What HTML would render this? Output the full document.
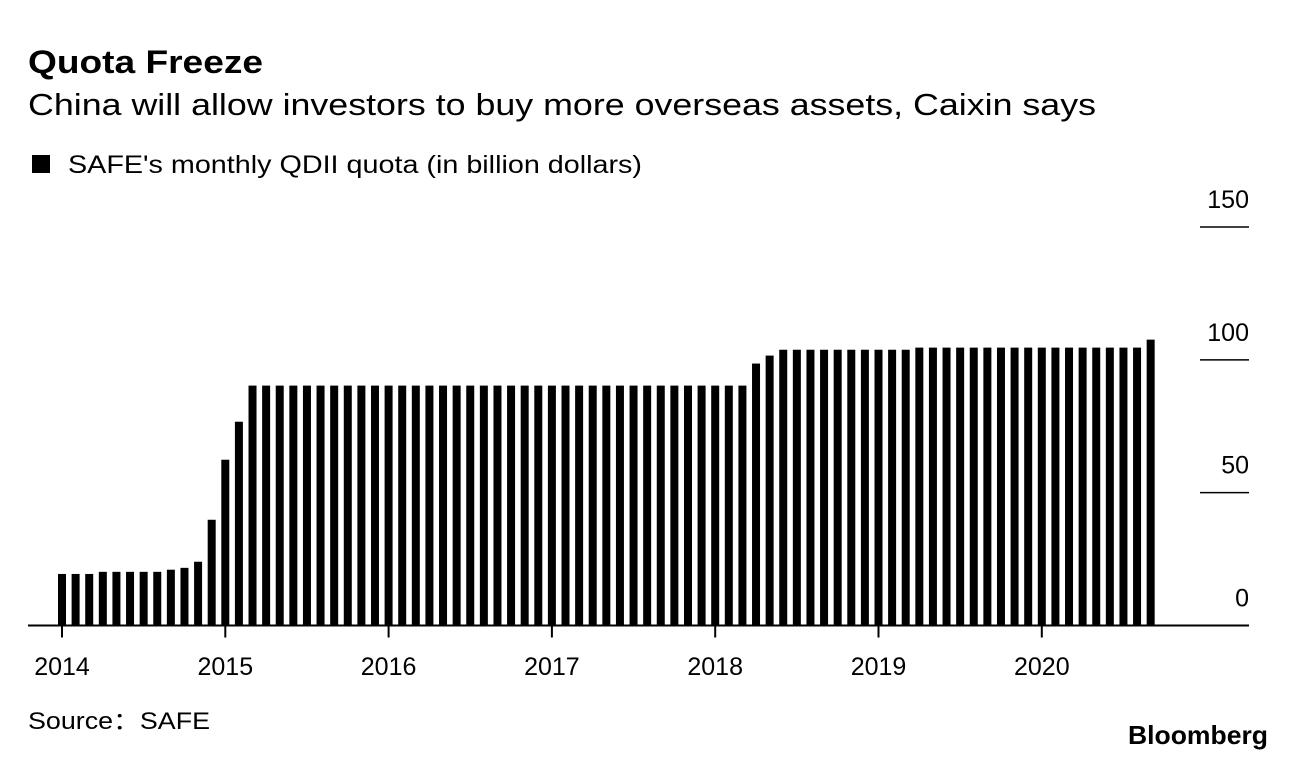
<!DOCTYPE html>
<html><head><meta charset="utf-8"><style>
body{margin:0;background:#fff;font-family:"Liberation Sans",sans-serif;}
svg text{font-family:"Liberation Sans",sans-serif;}
</style></head><body>
<svg id="chart" width="1296" height="760" xmlns="http://www.w3.org/2000/svg">
<text x="28" y="73" font-size="32" font-weight="bold" fill="#000" textLength="235" lengthAdjust="spacingAndGlyphs">Quota Freeze</text>
<text x="28" y="115" font-size="31" fill="#000" textLength="1068" lengthAdjust="spacingAndGlyphs">China will allow investors to buy more overseas assets, Caixin says</text>
<rect x="32" y="155" width="18" height="18" fill="#000"/>
<text x="68" y="173" font-size="25" fill="#000" textLength="574" lengthAdjust="spacingAndGlyphs">SAFE's monthly QDII quota (in billion dollars)</text>
<g id="grid"></g><g id="bars"></g><g id="xaxis"></g>
<text x="28" y="729" font-size="24" fill="#000" textLength="182" lengthAdjust="spacingAndGlyphs">Source：SAFE</text>
<text x="1128" y="744" font-size="26" font-weight="bold" fill="#000" textLength="140" lengthAdjust="spacingAndGlyphs">Bloomberg</text>
</svg>
<script>
const startYear = 2014;
const values = [19.4,19.4,19.4,20.2,20.2,20.2,20.2,20.2,21,21.7,24,39.8,
62.4,76.7,90.3,90.3,90.3,90.3,90.3,90.3,90.3,90.3,90.3,90.3,
90.3,90.3,90.3,90.3,90.3,90.3,90.3,90.3,90.3,90.3,90.3,90.3,
90.3,90.3,90.3,90.3,90.3,90.3,90.3,90.3,90.3,90.3,90.3,90.3,
90.3,90.3,90.3,98.6,101.6,103.8,103.8,103.8,103.8,103.8,103.8,103.8,
103.8,103.8,103.8,104.6,104.6,104.6,104.6,104.6,104.6,104.6,104.6,104.6,
104.6,104.6,104.6,104.6,104.6,104.6,104.6,104.6,107.6];
const yTicks = [0,50,100,150];
const yearLabels = ["2014","2015","2016","2017","2018","2019","2020"];
const NS="http://www.w3.org/2000/svg";
const y0=625.5, pxPerUnit=(625.5-227)/150;
const x0=62, pxPerMonth=163.3/12;
const ys=v=>y0-v*pxPerUnit, xs=i=>x0+i*pxPerMonth;
function mk(tag,attrs,parent){const e=document.createElementNS(NS,tag);for(const k in attrs)e.setAttribute(k,attrs[k]);parent.appendChild(e);return e;}
const grid=document.getElementById('grid'),bars=document.getElementById('bars'),xa=document.getElementById('xaxis');
yTicks.forEach(t=>{
  if(t>0){const l=mk('line',{x1:1200,x2:1249,y1:ys(t),y2:ys(t),stroke:'#000','stroke-width':1.5},grid);
  
  }
  const tx=mk('text',{x:1249,y:ys(t)-19,'font-size':25,'text-anchor':'end',fill:'#000'},grid);
  tx.textContent=t;
  
  
});
values.forEach((v,i)=>{
  const r=mk('rect',{x:xs(i)-4,y:ys(v),width:8,height:y0-ys(v),fill:'#000'},bars);
  
  
});
const ax=mk('line',{x1:28,x2:1249,y1:y0,y2:y0,stroke:'#000','stroke-width':2},xa);


yearLabels.forEach((lab,k)=>{
  const x=xs(k*12);
  const tk=mk('line',{x1:x,x2:x,y1:y0,y2:y0+12,stroke:'#000','stroke-width':2},xa);
  
  
  const t=mk('text',{x:x,y:675,'font-size':25,'text-anchor':'middle',fill:'#000'},xa);
  t.textContent=lab;
  
  
});
</script>
</body></html>
